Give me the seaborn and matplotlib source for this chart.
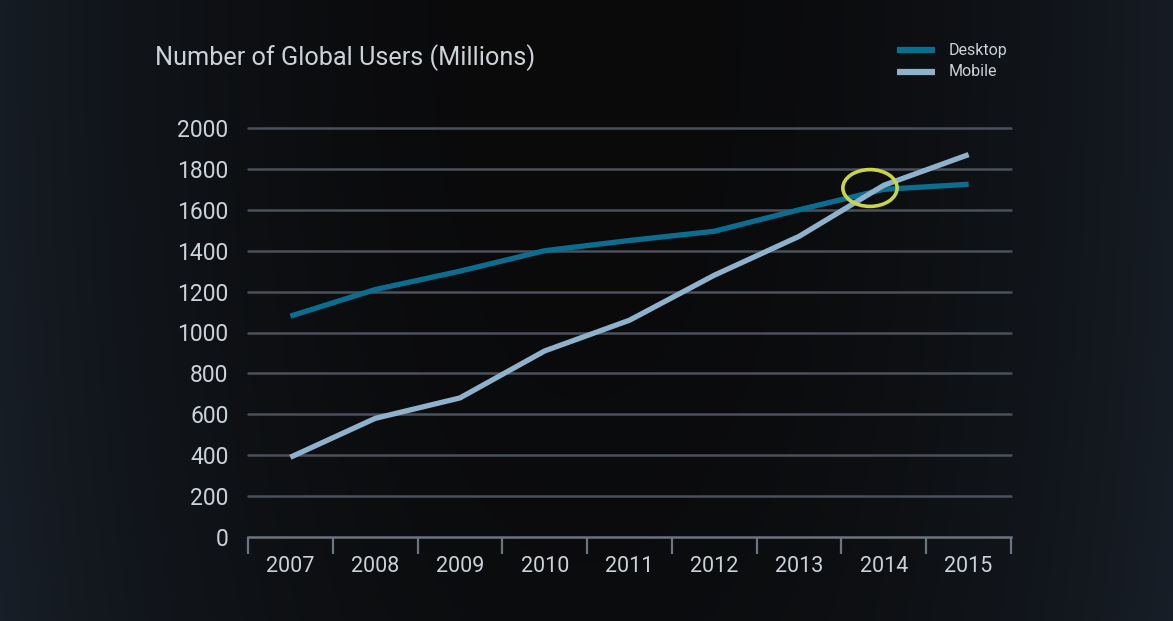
import numpy as np
import pandas as pd
import matplotlib
matplotlib.use("Agg")
import matplotlib.pyplot as plt
from matplotlib.patches import Ellipse
import seaborn as sns

# Chart data
years = ["2007", "2008", "2009", "2010", "2011", "2012", "2013", "2014", "2015"]
desktop = [1080, 1210, 1300, 1400, 1450, 1495, 1600, 1700, 1725]
mobile = [390, 580, 680, 910, 1060, 1280, 1470, 1720, 1870]
y_ticks = [0, 200, 400, 600, 800, 1000, 1200, 1400, 1600, 1800, 2000]

title = "Number of Global Users (Millions)"
series_names = ["Desktop", "Mobile"]
colors = {"Desktop": "#0b6e91", "Mobile": "#8fb2cc"}

df = pd.DataFrame({"Year": years, "Desktop": desktop, "Mobile": mobile})
df["x"] = np.arange(len(years))
long_df = df.melt(id_vars=["Year", "x"], value_vars=series_names,
                  var_name="Series", value_name="Users")

sns.set_theme(style="dark")
plt.rcParams["font.family"] = ["Roboto", "DejaVu Sans"]

text_color = "#cdd2d8"
grid_color = "#4b505a"

fig = plt.figure(figsize=(11.73, 6.21), dpi=100)

# dark background with soft vignette
bg = fig.add_axes([0, 0, 1, 1], zorder=-10)
gx = np.linspace(-1, 1, 400)
gy = np.linspace(-1, 1, 220)
X, Y = np.meshgrid(gx, gy)
r = np.clip(np.abs(X) ** 2.2 * 0.9 + (Y + 1) ** 2 * 0.03, 0, 1)
c0 = np.array([0x0a, 0x0a, 0x0b]) / 255
c1 = np.array([0x17, 0x1e, 0x27]) / 255
img = c0 + (c1 - c0) * r[..., None]
bg.imshow(img, aspect="auto", extent=[0, 1, 0, 1])
bg.set_axis_off()

ax = fig.add_axes([248 / 1173, 1 - 537 / 621, (1011 - 248) / 1173, (537 - 128) / 621])
ax.patch.set_alpha(0)

sns.lineplot(data=long_df, x="x", y="Users", hue="Series", palette=colors,
             linewidth=3.8, ax=ax, legend=False, clip_on=False, zorder=3)
for line in ax.lines:
    line.set_solid_capstyle("butt")
    line.set_solid_joinstyle("round")

ax.set_xlim(-0.5, len(years) - 0.5)
ax.set_ylim(0, 2000)
ax.set_yticks(y_ticks)
ax.set_yticklabels([str(v) for v in y_ticks], color=text_color, fontsize=16.5)
ax.set_xticks(df["x"])
ax.set_xticklabels(years, color=text_color, fontsize=15.5)
ax.set_xticks(np.arange(-0.5, len(years)), minor=True)
ax.tick_params(axis="x", which="major", length=0, pad=14)
ax.tick_params(axis="x", which="minor", bottom=True, length=12, width=1.6,
               color="#6b7480", direction="out")
ax.tick_params(axis="y", length=0, pad=14)
ax.set_xlabel("")
ax.set_ylabel("")
ax.grid(False)
for v in y_ticks[1:]:
    ax.axhline(v, color=grid_color, linewidth=1.8, zorder=1, clip_on=False)
for s in ["top", "right", "left"]:
    ax.spines[s].set_visible(False)
ax.spines["bottom"].set_color("#6b7480")
ax.spines["bottom"].set_linewidth(1.8)

# highlight ring where mobile overtakes desktop
d = np.array(desktop, dtype=float) - np.array(mobile, dtype=float)
i = int(np.where(np.diff(np.sign(d)) != 0)[0][0])
t = d[i] / (d[i] - d[i + 1])
cx = i + t
cy = desktop[i] + t * (desktop[i + 1] - desktop[i])
ax.add_patch(Ellipse((cx - 0.03, cy + 20), width=0.64, height=180, fill=False,
                     edgecolor="#c9d34c", linewidth=2.6, zorder=4, clip_on=False))

fig.text(155 / 1173, 1 - 58 / 621, title, color=text_color, fontsize=18.2,
         va="center", ha="left")

# legend
for k, name in enumerate(series_names):
    yy = 1 - (50 + 22 * k) / 621
    fig.add_artist(plt.Line2D([897 / 1173, 935 / 1173], [yy, yy], color=colors[name],
                              linewidth=4.5, solid_capstyle="butt",
                              transform=fig.transFigure))
    fig.text(949 / 1173, yy, name, color=text_color, fontsize=11.5, va="center", ha="left")

fig.savefig("out.png", dpi=100, facecolor="#0b0b0c")
